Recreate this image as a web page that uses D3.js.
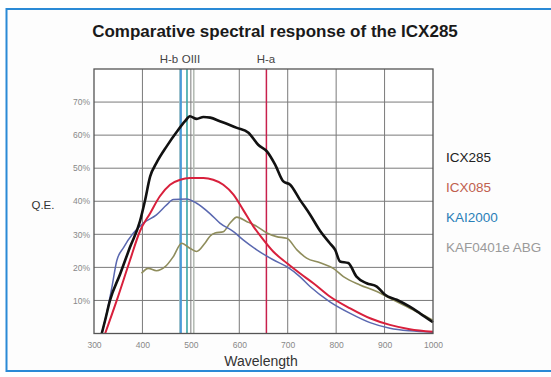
<!DOCTYPE html>
<html>
<head>
<meta charset="utf-8">
<script src="https://cdn.jsdelivr.net/npm/d3@7"></script>
<style>
  body { margin: 0; background: #fff; }
  svg { display: block; font-family: "Liberation Sans", Arial, sans-serif; }
</style>
</head>
<body>
<svg id="chart" width="551" height="377"></svg>
<script>
// data: [wavelength nm, QE %]
var icx285 = [[316,0],[323,4],[333,10],[354,18],[374,26],[395,34],[405,40],[416,47.5],[429,51.6],[450,56.6],
  [471,61],[488,64.2],[498,65.7],[512,64.9],[526,65.5],[540,65.3],[560,64.2],[595,62.2],[619,60.7],[639,57.1],
  [657,55.1],[674,51.1],[691,46],[705,45],[725,40.5],[746,36],[767,31],[787,27.3],[798,25.3],[808,21.8],
  [825,21.3],[842,17.2],[863,15.2],[884,14.2],[901,11.7],[925,10.2],[952,8.1],[973,6.1],[1000,3.4]];
var icx085 = [[323,0],[347,10],[374,22],[395,31],[416,36.4],[436,41.5],[457,45],[478,46.5],[498,47],[526,47],
  [546,46.5],[567,45],[588,42],[608,37.4],[629,32.4],[650,28.3],[670,24.8],[698,21.3],[725,18.2],[753,15.2],
  [787,11.2],[829,7.6],[870,4.6],[911,2.6],[952,1.3],[1000,0.5]];
var kai2000 = [[316,0],[326,6],[337,14],[347,22],[361,26],[381,30.3],[402,33.4],[429,35.9],[450,38.9],[464,40.5],
  [491,40.7],[512,39.4],[540,36.2],[560,33.4],[588,30.8],[608,28.3],[636,25.3],[670,22.3],[698,20.2],[725,17.2],
  [746,14.2],[787,9.6],[829,6.1],[870,3.3],[911,1.6],[952,0.8],[1000,0.4]];
var kaf0401 = [[398,18.2],[412,19.7],[429,19],[447,20.2],[464,23.3],[481,27.3],[498,25.8],[512,24.8],[529,27.3],
  [540,29.5],[550,30.4],[567,30.8],[581,33.4],[595,35.2],[615,33.9],[636,32.4],[657,30.4],[677,29.3],[698,28.8],
  [719,25.3],[739,22.8],[767,21.4],[794,19.7],[815,17.2],[849,14.7],[884,12.7],[904,11.2],[939,8.6],[973,6.1],[1000,4]];

var seriesNames = ["ICX285", "ICX085", "KAI2000", "KAF0401e ABG"];
var lineColors = ["#111111", "#d8203c", "#5a68b0", "#8f8d5c"];
var labelColors = ["#222222", "#c0604e", "#2a80b8", "#9a9a9a"];
var lineWidths = [2.6, 2, 1.5, 1.6];

var xTicks = [300, 400, 500, 600, 700, 800, 900, 1000];
var yTicks = [10, 20, 30, 40, 50, 60, 70];

// emission lines (nm)
var emission = [
  {wl: 477, color: "#f0e6b0", w: 1},
  {wl: 479, color: "#4b9ad8", w: 2.4},
  {wl: 492, color: "#3aa6a8", w: 1.6},
  {wl: 506, color: "#b4bcb4", w: 1.6},
  {wl: 656, color: "#c8204c", w: 1.5}
];
var emissionLabels = [{text: "H-b", x: 169}, {text: "OIII", x: 191}, {text: "H-a", x: 266}];

var svg = d3.select("#chart");

// frame of the image
svg.append("rect").attr("x", 6.5).attr("y", 9).attr("width", 560).attr("height", 362)
  .attr("fill", "#fdfdfd").attr("stroke", "#2a8ad6").attr("stroke-width", 2);

var plotL = 94, plotR = 433, plotT = 69, plotB = 333.5;
var x = d3.scaleLinear().domain([300, 1000]).range([plotL, plotR]);
var y = d3.scaleLinear().domain([0, 80]).range([plotB, plotT]);

svg.append("rect").attr("x", plotL).attr("y", plotT).attr("width", plotR - plotL).attr("height", plotB - plotT)
  .attr("fill", "#ffffff");

// grid
var grid = svg.append("g").attr("stroke", "#7a7a7a").attr("stroke-width", 1);
grid.selectAll("line.v").data(xTicks.slice(1, -1)).enter().append("line")
  .attr("x1", function(d) { return x(d); }).attr("x2", function(d) { return x(d); })
  .attr("y1", plotT).attr("y2", plotB);
grid.selectAll("line.h").data(yTicks).enter().append("line")
  .attr("x1", plotL).attr("x2", plotR)
  .attr("y1", function(d) { return y(d); }).attr("y2", function(d) { return y(d); });

// emission lines
svg.append("g").selectAll("line").data(emission).enter().append("line")
  .attr("x1", function(d) { return x(d.wl); }).attr("x2", function(d) { return x(d.wl); })
  .attr("y1", plotT).attr("y2", plotB)
  .attr("stroke", function(d) { return d.color; })
  .attr("stroke-width", function(d) { return d.w; });

// curves
var line = d3.line().x(function(d) { return x(d[0]); }).y(function(d) { return y(d[1]); })
  .curve(d3.curveMonotoneX);
var allSeries = [kaf0401, kai2000, icx085, icx285];
var order = [3, 2, 1, 0];
svg.append("g").selectAll("path").data(allSeries).enter().append("path")
  .attr("d", line)
  .attr("fill", "none")
  .attr("stroke", function(d, i) { return lineColors[order[i]]; })
  .attr("stroke-width", function(d, i) { return lineWidths[order[i]]; })
  .attr("stroke-linejoin", "round");

// plot border
svg.append("rect").attr("x", plotL).attr("y", plotT).attr("width", plotR - plotL).attr("height", plotB - plotT)
  .attr("fill", "none").attr("stroke", "#555").attr("stroke-width", 1.3);

// axes labels
var xAxis = d3.axisBottom(x).tickValues(xTicks).tickSize(0).tickPadding(8).tickFormat(d3.format("d"));
svg.append("g").attr("transform", "translate(0," + plotB + ")").call(xAxis)
  .call(function(g) { g.select(".domain").remove(); })
  .selectAll("text").attr("fill", "#888").style("font-size", "8.5px");

var yAxis = d3.axisLeft(y).tickValues(yTicks).tickSize(0).tickPadding(4)
  .tickFormat(function(d) { return d + "%"; });
svg.append("g").attr("transform", "translate(" + plotL + ",0)").call(yAxis)
  .call(function(g) { g.select(".domain").remove(); })
  .selectAll("text").attr("fill", "#888").style("font-size", "8.5px");

svg.append("text").attr("x", 275).attr("y", 37).attr("text-anchor", "middle")
  .style("font-size", "17px").style("font-weight", "bold").attr("fill", "#1a1a1a")
  .text("Comparative spectral response of the ICX285");

svg.selectAll("text.em").data(emissionLabels).enter().append("text")
  .attr("x", function(d) { return d.x; }).attr("y", 63).attr("text-anchor", "middle")
  .style("font-size", "11.5px").attr("fill", "#444").text(function(d) { return d.text; });

svg.append("text").attr("x", 43).attr("y", 209).attr("text-anchor", "middle")
  .style("font-size", "11.5px").attr("fill", "#333").text("Q.E.");

svg.append("text").attr("x", 261).attr("y", 366).attr("text-anchor", "middle")
  .style("font-size", "14px").attr("fill", "#333").text("Wavelength");

// legend
svg.selectAll("text.leg").data(seriesNames).enter().append("text")
  .attr("x", 446).attr("y", function(d, i) { return 162 + 30 * i; })
  .style("font-size", "13.5px")
  .attr("fill", function(d, i) { return labelColors[i]; })
  .text(function(d) { return d; });
</script>
</body>
</html>
